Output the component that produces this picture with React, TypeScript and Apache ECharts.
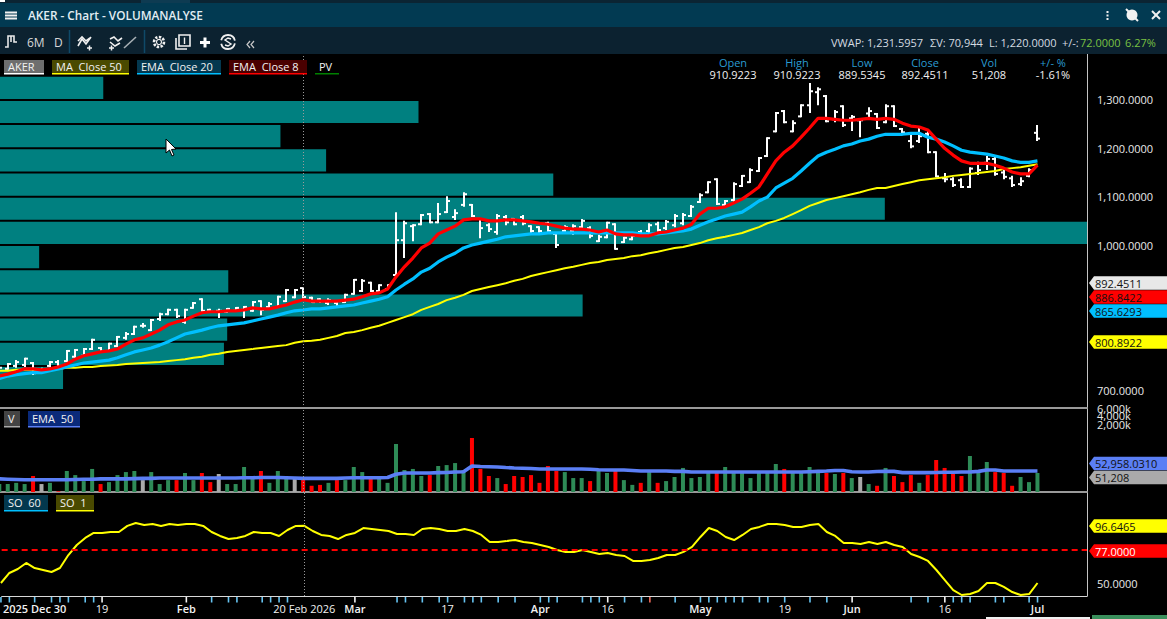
import React, { useEffect, useRef } from "react";
import * as echarts from "echarts";

const FONT = '"Open Sans", "Noto Sans", sans-serif';

// price bars, one entry per trading day (index 0 .. 123)
const opens = [744,744,750,752,756,742,750,758,760,769,771,785,787,781,791,808,816,833,824,847,857,866,841,870,888,866,864,862,864,866,864,884,872,872,884,892,910.9223,891,888,880,880,882,899,905,922,905,909,938,1010,1039,1043,1064,1047,1068,1058,1083,1083,1054,1041,1027,1058,1054,1058,1039,1037,1045,1023,1029,1029,1037,1035,1008,1016,1043,1006,1012,1027,1029,1043,1035,1041,1045,1060,1089,1109,1136,1083,1093,1122,1130,1153,1184,1235,1277,1235,1266,1289,1316,1308,1260,1287,1262,1258,1272,1271,1254,1287,1240,1215,1215,1230,1192,1138,1136,1134,1120,1149,1170,1178,1150,1138,1126,1143,1232];
const highs = [748,756,762,767,758,746,760,762,783,785,787,806,789,798,812,820,833,839,847,860,868,868,868,882,890,868,868,870,872,874,884,886,882,895,909,909,910.9223,893,890,890,882,899,930,930,924,919,919,1068,1050,1043,1064,1066,1087,1101,1074,1109,1085,1056,1045,1064,1062,1056,1062,1041,1039,1048,1025,1041,1043,1054,1039,1021,1048,1045,1017,1021,1031,1045,1048,1052,1064,1066,1083,1107,1132,1138,1093,1130,1145,1159,1182,1223,1275,1279,1258,1291,1335,1326,1310,1279,1289,1269,1262,1285,1273,1291,1289,1242,1233,1242,1238,1194,1149,1140,1138,1161,1172,1184,1182,1155,1143,1140,1159,1248];
const lows = [742,742,746,748,731,738,748,748,758,767,769,783,777,779,789,804,814,829,822,843,855,849,837,868,862,860,849,860,862,849,862,855,868,870,882,890,889.5345,880,880,876,872,880,897,903,903,903,907,936,973,1008,1041,1045,1045,1066,1052,1079,1058,1014,1027,1021,1041,1041,1041,1025,1025,1025,994,1025,1021,1035,1014,1006,1014,990,1004,1010,1017,1025,1027,1031,1037,1041,1058,1087,1107,1083,1079,1089,1120,1128,1151,1182,1233,1252,1233,1264,1273,1289,1254,1254,1244,1236,1223,1260,1240,1252,1244,1231,1200,1211,1190,1140,1130,1120,1118,1118,1145,1155,1143,1136,1120,1122,1140,1215];
const closes = [746,754,758,765,735,742,758,750,781,783,785,804,781,796,810,816,831,833,845,857,866,853,866,880,864,862,864,868,870,872,882,866,878,893,907,907,892.4511,882,884,886,874,897,928,926,905,917,917,1010,1045,1041,1062,1047,1064,1091,1066,1105,1060,1035,1033,1060,1047,1043,1045,1029,1029,1029,1000,1037,1039,1050,1019,1017,1046,992,1015,1019,1019,1041,1031,1048,1060,1062,1079,1103,1130,1085,1091,1126,1143,1155,1180,1221,1273,1254,1252,1289,1318,1322,1256,1275,1248,1265,1258,1277,1242,1287,1246,1233,1204,1225,1192,1142,1136,1124,1120,1158,1155,1178,1147,1141,1124,1132,1155,1220];

const ma50 = [740,740,742,742,742,742,744,744,746,746,748,748,750,751,752,754,755,756,757,758,760,762,764,767,769,773,775,779,781,783,785,787,789,791,793,798,800.8922,802,804,808,812,818,820,824,829,833,839,845,851,857,866,872,878,886,891,897,905,909,913,917,921,926,930,936,940,944,948,952,955,959,963,965,969,971,973,977,979,983,986,990,994,996,1000,1004,1010,1014,1017,1021,1025,1031,1037,1045,1050,1056,1064,1072,1081,1087,1093,1097,1101,1105,1109,1114,1118,1118,1122,1126,1130,1134,1136,1138,1140,1143,1145,1147,1149,1151,1153,1157,1159,1161,1164,1167];
const ema20 = [724,729,732,734,736,736,740,744,748,752,756,758,760,762,767,773,779,783,787,793,800,808,816,820,824,829,833,835,837,839,843,847,851,855,860,864,865.6293,868,868,870,872,874,876,880,884,888,893,907,919,930,944,952,965,975,983,994,1000,1004,1008,1012,1017,1019,1021,1023,1023,1025,1025,1025,1025,1025,1025,1025,1025,1025,1025,1025,1023,1023,1023,1025,1027,1029,1033,1041,1048,1054,1060,1064,1068,1079,1091,1099,1118,1128,1138,1153,1169,1184,1192,1198,1205,1209,1215,1219,1225,1229,1229,1229,1231,1231,1223,1219,1213,1205,1196,1192,1190,1188,1184,1180,1174,1171,1171,1174];
const ema8 = [729,733,738,744,744,742,744,748,754,764,771,775,779,781,785,795,804,808,816,824,835,841,845,853,860,862,862,864,864,866,870,868,868,872,876,882,886.8422,884,884,884,884,886,888,893,899,901,909,934,955,973,994,1004,1023,1031,1039,1052,1054,1054,1050,1050,1052,1052,1050,1048,1045,1043,1039,1035,1033,1033,1031,1027,1031,1023,1021,1021,1019,1019,1025,1027,1031,1035,1043,1064,1076,1076,1079,1087,1095,1107,1120,1147,1174,1192,1205,1223,1242,1262,1262,1260,1258,1258,1260,1262,1260,1262,1260,1252,1246,1244,1238,1219,1200,1186,1174,1169,1169,1169,1165,1159,1151,1147,1147,1165];

// volume in thousands, and the sign of each day's volume bar (1 up, -1 down, 0 unchanged)
const volumeK = [36,36,39,36,62,36,39,22,87,66,44,100,36,41,66,81,87,47,81,36,47,47,76,47,76,41,71,36,36,114,51,87,39,87,51,51,51.208,32,34,39,47,47,114,81,51,54,39,542,93,100,62,66,122,130,149,93,813,100,62,54,36,62,58,66,39,122,87,81,54,54,44,87,76,93,47,34,39,81,39,44,58,107,54,58,76,76,114,76,76,54,76,76,140,100,76,76,114,76,76,71,76,54,58,36,32,107,62,41,66,39,66,183,107,71,62,240,76,160,81,76,32,58,41,76];
const volumeDown = [4,7,12,21,24,25,31,36,37,38,40,44,51,56,57,58,60,61,62,63,64,65,66,70,73,76,78,85,93,98,100,104,106,107,108,110,111,112,113,114,118,119,120];
const volumeFlat = [5,17,26,35,102];
const volumeEma = [51,50,49,48,48,48,48,48,48,49,50,50,51,51,51,51,52,53,53,54,54,54,54,54,54,54,54,54,54,55,55,56,56,56,55,54,52.958,53,53,53,53,54,55,55,55,55,56,70,76,76,76,76,78,79,81,83,122,118,116,114,110,107,105,103,100,100,100,100,100,100,98,95,93,93,93,90,87,87,87,87,85,85,81,81,81,81,81,81,81,81,81,81,81,81,81,81,83,85,87,90,90,83,81,81,84,85,85,78,78,78,78,79,80,80,81,81,85,93,93,87,87,87,87,87];

const so1 = [50.5,58.6,61.8,66.7,62.6,61,59.4,62.6,73.1,81.2,86.9,90.9,90.9,91.7,91.7,96.6,99,97.4,98.2,96.6,98.2,97.4,98.2,98.2,96.6,91.7,88.5,86,86.9,88.5,91.7,90.9,90.9,88.5,93.3,96.6,96.6465,92.5,89.3,88.5,86,89.3,90.9,94.9,94.1,93.3,92.5,90.1,90.1,89.3,94.1,94.9,94.1,92.5,92.5,94.1,92.5,89.3,83.6,83.6,84.4,85.2,83.6,82.8,81.2,79.6,77.2,75.6,75.6,77.2,75.6,73.9,74.7,73.1,72.3,68.3,68.3,69.1,70.7,73.1,73.1,75.6,79.6,87.7,94.9,92.5,87.7,85.2,89.3,94.1,95.8,98.2,98.2,97.4,95.8,95.8,97.4,98.2,91.7,88.5,82.8,82.8,82,83.6,82,83.6,81.2,79.6,73.9,71.5,68.3,61,52.9,44.8,40.8,41.6,44,50.5,50.5,47.3,43.2,40.8,41.6,50.5];
const soLevel = 77;

// volume-at-price profile: one band per 50 of price, bar length in % of the widest band
const pvBandLow = [1300,1250,1200,1150,1100,1050,1000,950,900,850,800,750,700];
const pvShare = [9.5,38.5,25.8,30,50.9,81.4,100,3.6,21,53.6,20.9,20.6,5.8];
const PV_BAND = 50;

// axes
const priceTicks = [700,1000,1100,1200,1300];
const volumeTicks = [2000000,6000000];
const soTicks = [50];
const dateLabels: Record<number,string> = {4:"2025 Dec 30",12:"19",22:"Feb",36:"20 Feb 2026",42:"Mar",53:"17",64:"Apr",72:"16",83:"May",93:"19",101:"Jun",112:"16",123:"Jul"};
const boldDates = [4,22,42,64,83,101,123];
const cursorDay = 36;
const blueTicks = [0,1,4,6,7,8,10,11,25,27,28,31,32,33,34,47,48,50,52,53,55,56,57,59,61,64,65,66,69,70,71,74,76,80,83,84,85,86,87,88,90,91,93,96,98,108,110,113,114,115,118,119,122,123];
const whiteTicks = [12,22,42,72,101,112];
const redTicks = [77];

const COLORS = {
  teal: "#008080", yellow: "#ffff00", cyan: "#00bfff", red: "#ff0000",
  volUp: "#2e8b57", volGrey: "#aaaaaa", volEma: "#5b7ff5", panelLine: "#999999",
};

function txt(text: string, x: number, y: number, fill = "#e6e6e6", size = 11, align = "left", weight = "normal") {
  return { type: "text", z: 50, silent: true, style: { text, x, y, fill, font: `${weight} ${size}px ${FONT}`, textAlign: align, textVerticalAlign: "middle" } };
}
function box(x: number, y: number, w: number, h: number, fill: string) {
  return { type: "rect", z: 40, silent: true, shape: { x, y, width: w, height: h }, style: { fill } };
}
function seg(x1: number, y1: number, x2: number, y2: number, stroke = "#f0f0f0", lineWidth = 2) {
  return { type: "line", z: 50, silent: true, shape: { x1, y1, x2, y2 }, style: { stroke, lineWidth } };
}
function poly(points: number[][], stroke = "#f0f0f0", lineWidth = 2) {
  return { type: "polyline", z: 50, silent: true, shape: { points }, style: { stroke, lineWidth, fill: "none" } };
}
function chip(label: string, x: number, w: number, y: number, h: number, bg: string, line: string) {
  return [box(x, y, w, h - 1, bg), box(x, y + h - 1, w, 1.5, line), txt(label, x + 4, y + h / 2 - 0.5, "#f2f2f2", 11)];
}
function flag(label: string, cy: number, fill: string, color = "#111111") {
  const t = cy - 6.8, b = cy + 6.8;
  return [
    { type: "polygon", z: 45, silent: true, shape: { points: [[1089, cy], [1094, t], [1167, t], [1167, b], [1094, b]] }, style: { fill } },
    txt(label, 1095, cy, color, 11),
  ];
}

const graphics: any[] = [
  // window chrome
  box(0, 0, 1167, 3, "#0b2433"), box(141, 0, 49, 3, "#0e3b52"), box(0, 0, 5, 2, "#ffffff"),
  box(0, 3, 1167, 24, "#023a52"), box(0, 27, 1167, 27, "#0c2230"),
  seg(5, 12.5, 17, 12.5), seg(5, 15.5, 17, 15.5), seg(5, 18.5, 17, 18.5),
  txt("AKER - Chart - VOLUMANALYSE", 28, 15, "#e3edf2", 11.8, "left", "600"),
  seg(1107.5, 11, 1107.5, 13), seg(1107.5, 14.5, 1107.5, 16.5), seg(1107.5, 18, 1107.5, 20),
  { type: "circle", z: 50, silent: true, shape: { cx: 1132, cy: 15, r: 5.5 }, style: { fill: "#f2f2f2" } },
  poly([[1126, 9], [1138, 21]], "#f2f2f2", 2),
  seg(1152, 11, 1160, 19), seg(1160, 11, 1152, 19),
  // toolbar
  poly([[5, 47], [8, 47], [8, 36], [11, 36], [11, 42], [11, 36], [14, 36], [14, 42], [17, 42]], "#e8e8e8", 1.6),
  txt("6M", 27, 42.5, "#d8d8d8", 12), txt("D", 54, 42.5, "#d8d8d8", 12),
  seg(69.5, 30, 69.5, 53, "#0f4a68", 1.5), seg(144.5, 30, 144.5, 53, "#0f4a68", 1.5),
  poly([[78, 46], [82, 39], [86, 44], [91, 37]], "#f0f0f0", 1.6), poly([[78, 41], [82, 37], [86, 41], [90, 38]], "#f0f0f0", 1.6), seg(87, 48, 92, 48, "#f0f0f0", 1.5), seg(89.5, 45.5, 89.5, 50.5, "#f0f0f0", 1.5),
  poly([[110, 39], [114, 37], [118, 41], [122, 38]], "#f0f0f0", 1.6), poly([[110, 42], [115, 46], [120, 43]], "#f0f0f0", 1.6), seg(109, 48, 114, 48, "#f0f0f0", 1.5), seg(111.5, 45.5, 111.5, 50.5, "#f0f0f0", 1.5),
  seg(124, 48, 136, 37, "#a8b0b5", 1.6),
  { type: "circle", z: 50, silent: true, shape: { cx: 159, cy: 42, r: 5 }, style: { stroke: "#f0f0f0", lineWidth: 2.6, fill: "none", lineDash: [2.4, 1.4] } },
  { type: "circle", z: 50, silent: true, shape: { cx: 159, cy: 42, r: 2.5 }, style: { stroke: "#f0f0f0", lineWidth: 1.2, fill: "none" } },
  { type: "rect", z: 50, silent: true, shape: { x: 179, y: 35, width: 11, height: 11 }, style: { stroke: "#f0f0f0", lineWidth: 1.6, fill: "none" } },
  poly([[176, 38], [176, 49], [187, 49]], "#f0f0f0", 1.6), seg(184.5, 37.5, 184.5, 44, "#f0f0f0", 1.4),
  seg(200, 42.5, 210, 42.5, "#ffffff", 3), seg(205, 37.5, 205, 47.5, "#ffffff", 3),
  { type: "arc", z: 50, silent: true, shape: { cx: 228, cy: 42, r: 7, startAngle: -2.9, endAngle: -0.2 }, style: { stroke: "#f0f0f0", lineWidth: 1.8, fill: "none" } },
  { type: "arc", z: 50, silent: true, shape: { cx: 228, cy: 42, r: 7, startAngle: 0.2, endAngle: 2.9 }, style: { stroke: "#f0f0f0", lineWidth: 1.8, fill: "none" } },
  poly([[231, 39], [228, 38], [225, 40], [231, 44], [228, 46], [225, 45]], "#f0f0f0", 1.4),
  poly([[250, 41], [247, 44.5], [250, 48]], "#c8c8c8", 1.2), poly([[254, 41], [251, 44.5], [254, 48]], "#c8c8c8", 1.2),
  txt("VWAP: 1,231.5957", 831, 42.5, "#d4dbe0"), txt("ΣV: 70,944", 930, 42.5, "#d4dbe0"), txt("L: 1,220.0000", 989, 42.5, "#d4dbe0"),
  txt("+/-:", 1062, 42.5, "#d4dbe0"), txt("72.0000", 1080, 42.5, "#7ac143"), txt("6.27%", 1125, 42.5, "#7ac143"),
  // main panel legend
  ...chip("AKER", 4, 40, 60, 14, "#6e6e6e", "#ffffff"),
  ...chip("MA  Close 50", 52, 77, 60, 14, "#4a4a00", COLORS.yellow),
  ...chip("EMA  Close 20", 137, 84, 60, 14, "#04384f", COLORS.cyan),
  ...chip("EMA  Close 8", 229, 78, 60, 14, "#4a0000", COLORS.red),
  ...chip("PV", 315, 24, 60, 14, "#000000", "#008000"),
  // day values
  ...(["Open", "High", "Low", "Close", "Vol", "+/- %"].map((t, k) => txt(t, [733, 797, 862, 925, 989, 1053][k], 62, "#2a9bd0", 11, "center"))),
  ...(["910.9223", "910.9223", "889.5345", "892.4511", "51,208", "-1.61%"].map((t, k) => txt(t, [733, 797, 862, 925, 989, 1053][k], 74, "#f0f0f0", 11, "center"))),
  // panel legends
  ...chip("V", 4, 16, 411, 16, "#444444", "#aaaaaa"),
  ...chip("EMA  50", 28, 52, 411, 16, "#0a2a7a", COLORS.volEma),
  ...chip("SO  60", 4, 44, 495, 16, "#03384e", COLORS.cyan),
  ...chip("SO  1", 56, 38, 495, 16, "#4a4a00", COLORS.yellow),
  // the middle volume tick: the axis drops it because it collides with its neighbours
  txt("4,000k", 1097, 415, "#e8e8e8", 11),
  // value flags
  ...flag("892.4511", 283, "#e8e8e8"),
  ...flag("886.8422", 297, COLORS.red),
  ...flag("865.6293", 311, COLORS.cyan),
  ...flag("800.8922", 342, COLORS.yellow),
  ...flag("52,958.0310", 463.5, COLORS.volEma),
  ...flag("51,208", 477.5, "#aaaaaa"),
  ...flag("96.6465", 526, COLORS.yellow),
  ...flag("77.0000", 551, COLORS.red, "#ffffff"),
  // bottom edge
  box(986, 617, 104, 2, "#f0f0f0"), box(1092, 615, 75, 4, "#3a8f5c"),
  // mouse pointer
  { type: "polygon", z: 60, silent: true, shape: { points: [[166, 139], [166, 153], [169.5, 150], [172, 156], [174, 155], [171.5, 149.5], [176, 149]] }, style: { fill: "#ffffff", stroke: "#000000", lineWidth: 1 } },
];

const X_MIN = 0.083;
const X_MAX = 128.87;
const GRID_W = 1087;
const pairs = (a: number[]) => a.map((v, i) => [i, v]);
const crosshair = { silent: true, symbol: "none", label: { show: false }, animation: false,
  lineStyle: { color: "#9a9a9a", type: [1, 2], width: 1 }, data: [{ xAxis: cursorDay }] };

function renderOhlc(params: any, api: any) {
  const i = api.value(0);
  const x = api.coord([i, 0])[0];
  const py = (v: number) => api.coord([i, v])[1];
  const stroke = { stroke: "#ffffff", lineWidth: 2 };
  const cx = Math.round(x);
  return {
    type: "group",
    children: [
      { type: "line", shape: { x1: cx, y1: py(api.value(2)), x2: cx, y2: py(api.value(3)) }, style: stroke },
      { type: "line", shape: { x1: cx - 3, y1: py(api.value(1)), x2: cx, y2: py(api.value(1)) }, style: stroke },
      { type: "line", shape: { x1: cx, y1: py(api.value(4)), x2: cx + 3, y2: py(api.value(4)) }, style: stroke },
    ],
  };
}
function renderPv(params: any, api: any) {
  const a = api.coord([0, api.value(1) + PV_BAND]);
  const b = api.coord([api.value(0), api.value(1)]);
  return { type: "rect", shape: { x: a[0], y: a[1] + 1, width: b[0] - a[0], height: b[1] - a[1] - 2 }, style: { fill: COLORS.teal } };
}
function renderTick(params: any, api: any) {
  const p = api.coord([api.value(0), 40]);
  const color = ["#66c4f2", "#f2f2f2", "#f26b5b"][api.value(1)];
  return { type: "line", shape: { x1: p[0], y1: p[1] + 1, x2: p[0], y2: p[1] + 6.5 }, style: { stroke: color, lineWidth: 1.6 } };
}

const hiddenX = { show: false };
function timeAxis(gridIndex: number, axisLine: any, extra: any = {}) {
  return { type: "value", gridIndex, min: X_MIN, max: X_MAX, splitLine: { show: false }, axisTick: { show: false },
    axisLabel: { show: false }, axisLine: { show: true, onZero: false, lineStyle: axisLine }, ...extra };
}
const sideLine = { show: true, onZero: false, lineStyle: { color: "#c4c4c4", width: 1 } };
const sideLabel = { color: "#e8e8e8", fontFamily: FONT, fontSize: 11, margin: 10, showMinLabel: true, showMaxLabel: true };

const option: any = {
  animation: false,
  backgroundColor: "#000000",
  graphic: { elements: graphics },
  grid: [
    { left: 0, top: 54, width: GRID_W, height: 354 },
    { left: 0, top: 408, width: GRID_W, height: 84 },
    { left: 0, top: 492, width: GRID_W, height: 104 },
  ],
  xAxis: [
    timeAxis(0, { color: COLORS.panelLine, width: 2 }),
    timeAxis(1, { color: COLORS.panelLine, width: 2 }),
    timeAxis(2, { color: "#d8d8d8", width: 1 }, {
      axisLabel: {
        show: true, customValues: Object.keys(dateLabels).map(Number), margin: 7, color: "#f2f2f2", fontFamily: FONT, fontSize: 11,
        hideOverlap: false, showMinLabel: true, showMaxLabel: true,
        formatter: (v: number) => boldDates.includes(v) ? `{b|${dateLabels[v]}}` : dateLabels[v],
        rich: { b: { fontWeight: 600, color: "#f2f2f2", fontFamily: FONT, fontSize: 11 } },
      },
    }),
    { type: "value", gridIndex: 0, min: 0, max: 100, ...hiddenX },
  ],
  yAxis: [
    { type: "value", gridIndex: 0, position: "right", min: 663, max: 1395, splitLine: { show: false }, axisTick: { show: false }, axisLine: sideLine,
      axisLabel: { ...sideLabel, customValues: priceTicks, formatter: (v: number) => v.toLocaleString("en-US", { minimumFractionDigits: 4, maximumFractionDigits: 4 }) } },
    { type: "log", gridIndex: 1, position: "right", min: 21000, max: 6200000, logBase: 10, splitLine: { show: false }, axisTick: { show: false }, axisLine: sideLine,
      axisLabel: { ...sideLabel, customValues: volumeTicks, hideOverlap: false, formatter: (v: number) => `${Math.round(v / 1000).toLocaleString("en-US")}k` } },
    { type: "value", gridIndex: 2, position: "right", min: 40, max: 124, splitLine: { show: false }, axisTick: { show: false }, axisLine: sideLine,
      axisLabel: { ...sideLabel, customValues: soTicks, formatter: (v: number) => v.toFixed(4) } },
  ],
  series: [
    { name: "PV", type: "custom", xAxisIndex: 3, yAxisIndex: 0, z: 1, clip: true, renderItem: renderPv, encode: { x: 0, y: 1 },
      data: pvShare.map((s, k) => [s, pvBandLow[k]]), silent: true },
    { name: "AKER", type: "custom", xAxisIndex: 0, yAxisIndex: 0, z: 2, clip: true, renderItem: renderOhlc, encode: { x: 0, y: [2, 3] },
      data: opens.map((o, i) => [i, o, highs[i], lows[i], closes[i]]), silent: true, markLine: crosshair },
    { name: "MA Close 50", type: "line", xAxisIndex: 0, yAxisIndex: 0, z: 3, data: pairs(ma50), showSymbol: false, symbol: "none", lineStyle: { color: COLORS.yellow, width: 2 }, silent: true },
    { name: "EMA Close 20", type: "line", xAxisIndex: 0, yAxisIndex: 0, z: 4, data: pairs(ema20), showSymbol: false, symbol: "none", lineStyle: { color: COLORS.cyan, width: 3.2 }, silent: true },
    { name: "EMA Close 8", type: "line", xAxisIndex: 0, yAxisIndex: 0, z: 5, data: pairs(ema8), showSymbol: false, symbol: "none", lineStyle: { color: COLORS.red, width: 3.2 }, silent: true },
    { name: "V", type: "bar", xAxisIndex: 1, yAxisIndex: 1, z: 2, barWidth: 4, silent: true, markLine: crosshair,
      data: volumeK.map((v, i) => ({ value: [i, v * 1000], itemStyle: { color: volumeDown.includes(i) ? COLORS.red : volumeFlat.includes(i) ? COLORS.volGrey : COLORS.volUp } })) },
    { name: "EMA 50", type: "line", xAxisIndex: 1, yAxisIndex: 1, z: 3, data: volumeEma.map((v, i) => [i, v * 1000]), showSymbol: false, symbol: "none", lineStyle: { color: COLORS.volEma, width: 3.6 }, silent: true },
    { name: "SO 1", type: "line", xAxisIndex: 2, yAxisIndex: 2, z: 3, data: pairs(so1), showSymbol: false, symbol: "none", lineStyle: { color: COLORS.yellow, width: 2 }, silent: true,
      markLine: { ...crosshair, data: [{ xAxis: cursorDay }] } },
    { name: "SO level", type: "line", xAxisIndex: 2, yAxisIndex: 2, z: 2, data: [], silent: true,
      markLine: { silent: true, symbol: "none", label: { show: false }, lineStyle: { color: COLORS.red, type: [6, 4], width: 2 }, data: [{ yAxis: soLevel }] } },
    { name: "Time ticks", type: "custom", xAxisIndex: 2, yAxisIndex: 2, z: 2, clip: false, silent: true, renderItem: renderTick, encode: { x: 0 },
      data: [...blueTicks.map((i) => [i, 0]), ...whiteTicks.map((i) => [i, 1]), ...redTicks.map((i) => [i, 2])] },
  ],
};

export default function App() {
  const ref = useRef<HTMLDivElement>(null);
  useEffect(() => {
    document.body.style.margin = "0";
    document.body.style.background = "#000";
    const chart = echarts.init(ref.current!, undefined, { renderer: "svg" });
    chart.setOption(option);
    return () => chart.dispose();
  }, []);
  return <div ref={ref} style={{ position: "fixed", left: 0, top: 0, width: 1167, height: 619 }} />;
}
